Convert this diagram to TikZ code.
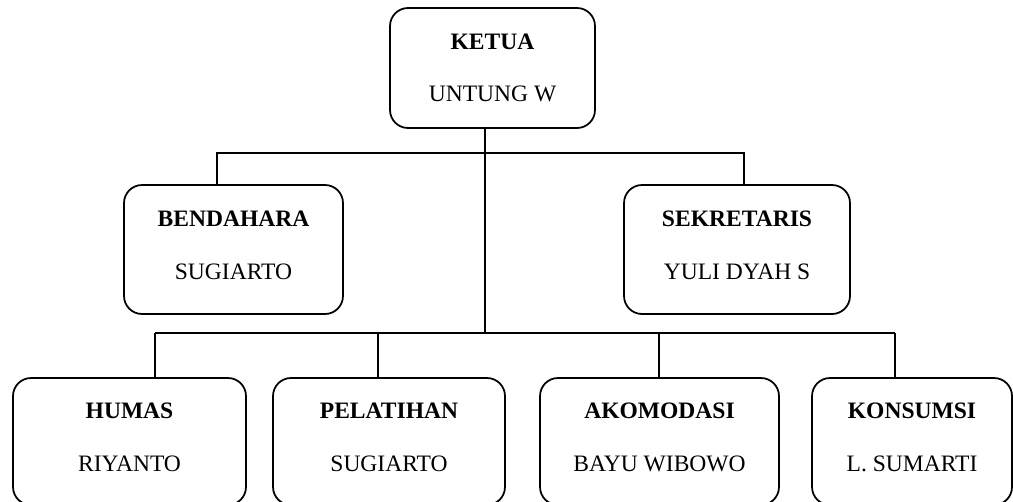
\documentclass[tikz,border=0pt]{standalone}
\usepackage{fontspec}
\setmainfont{Liberation Serif}
\usepackage{tikz}
\usetikzlibrary{positioning, calc}

\tikzset{
    jabatan/.style={draw, line width=1pt, rounded corners=0.36cm, inner sep=0pt, outer sep=0pt,
        align=center, minimum height=2.58cm, font=\fontsize{13.4}{16}\selectfont},
    garis/.style={line width=1pt}
}

\begin{document}
\begin{tikzpicture}[x=0.02cm, y=-0.02cm]
            \useasboundingbox (0,0) rectangle (1013,501);

            % pengurus inti
            \node[jabatan, minimum width=4.1cm, minimum height=2.4cm] (ketua) at (492.5,68) {\textbf{KETUA}\\[14pt]UNTUNG W};
            \node[jabatan, minimum width=4.38cm] (bendahara) at (233.5,249.5) {\textbf{BENDAHARA}\\[14pt]SUGIARTO\\[-11pt]};
            \node[jabatan, minimum width=4.52cm] (sekretaris) at (737,249.5) {\textbf{SEKRETARIS}\\[14pt]YULI DYAH S\\[-11pt]};

            % seksi-seksi
            \foreach \n/\x/\w/\a/\b in {humas/129.5/4.66/HUMAS/RIYANTO,
                                        pelatihan/389/4.64/PELATIHAN/SUGIARTO,
                                        akomodasi/659.5/4.78/AKOMODASI/BAYU WIBOWO,
                                        konsumsi/912/4.0/KONSUMSI/L. SUMARTI} {
                \node[jabatan, minimum width=\w cm, minimum height=2.54cm] (\n) at (\x,441.5) {\textbf{\a}\\[14pt]\b\\[-11pt]};
            }

            % garis penghubung
            \draw[garis] ([xshift=-0.15cm]ketua.south) -- ++(0,205);
            \draw[garis] ([xshift=-0.33cm]bendahara.north) -- ++(0,-32) -| ([xshift=0.14cm]sekretaris.north);

            \foreach \n/\d in {humas/0.51, pelatihan/-0.22, akomodasi/-0.01, konsumsi/-0.34} {
                \draw[garis] ([xshift=\d cm]\n.north) -- ++(0,-45) coordinate (\n-bus);
            }
            \draw[garis] (humas-bus) -- (konsumsi-bus);
        \end{tikzpicture}
\end{document}
